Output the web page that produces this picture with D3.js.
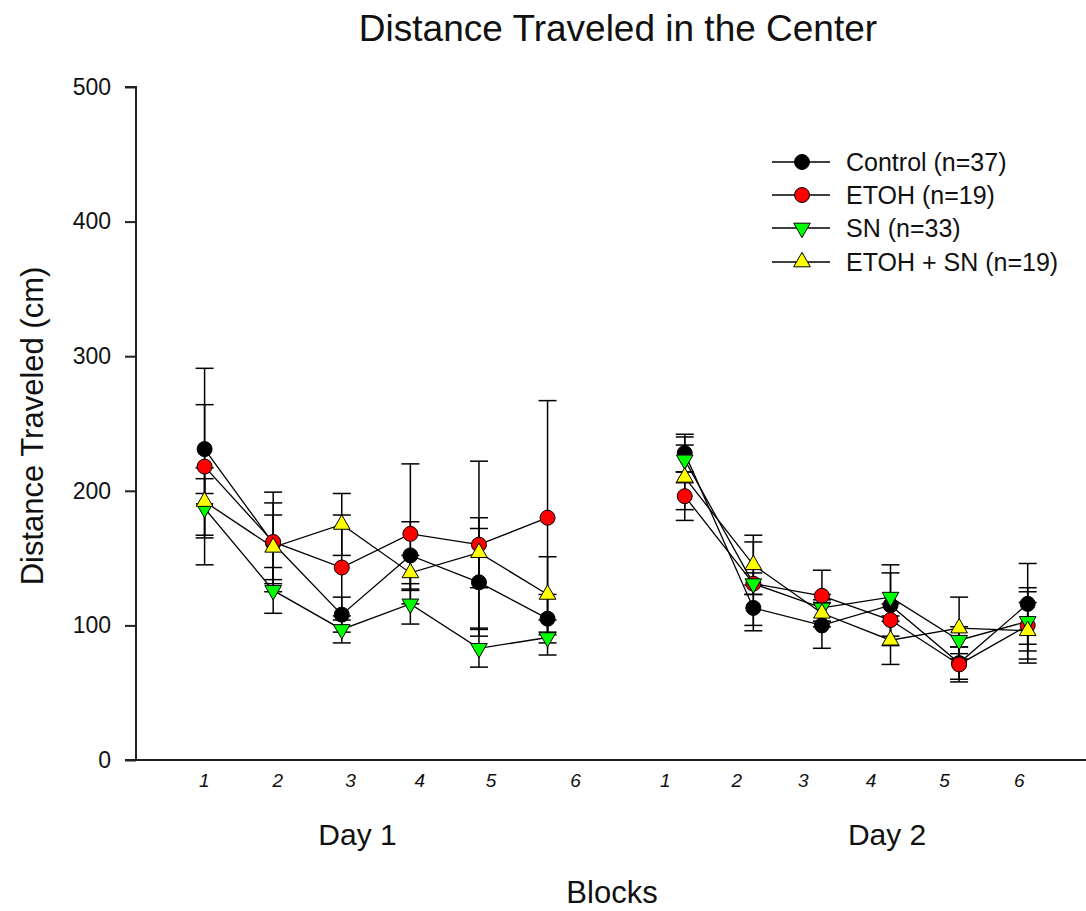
<!DOCTYPE html>
<html>
<head>
<meta charset="utf-8">
<script src="https://cdn.jsdelivr.net/npm/d3@7"></script>
<style>
  html, body { margin: 0; padding: 0; background: #fff; }
  svg { display: block; font-family: Arial, "Liberation Sans", sans-serif; }
</style>
</head>
<body>
<svg id="chart" width="1086" height="911"></svg>
<script>
// ---- data ----
const blocks = [1, 2, 3, 4, 5, 6];
const days = ["Day 1", "Day 2"];
const seriesNames = ["Control (n=37)", "ETOH (n=19)", "SN (n=33)", "ETOH + SN (n=19)"];

const controlDay1 = [231, 161, 108, 152, 132, 105];
const controlDay2 = [228, 113, 100, 115, 72, 116];
const etohDay1 = [218, 162, 143, 168, 160, 180];
const etohDay2 = [196, 131, 122, 104, 71, 100];
const snDay1 = [187, 126, 97, 116, 83, 91];
const snDay2 = [223, 131, 113, 121, 89, 103];
const etohSnDay1 = [192, 158, 175, 139, 154, 123];
const etohSnDay2 = [210, 145, 109, 89, 98, 96];

const controlErr1 = [33, 30, 13, 25, 40, 18];
const controlErr2 = [14, 17, 17, 30, 12, 30];
const etohErr1 = [73, 37, 39, 52, 62, 87];
const etohErr2 = [18, 8, 19, 12, 13, 28];
const snErr1 = [22, 17, 10, 15, 14, 13];
const snErr2 = [17, 31, 10, 18, 10, 22];
const etohSnErr1 = [25, 24, 23, 13, 26, 28];
const etohSnErr2 = [24, 22, 10, 18, 23, 21];

const yTicks = [0, 100, 200, 300, 400, 500];
const xTickLabels = ["1", "2", "3", "4", "5", "6", "1", "2", "3", "4", "5", "6"];
const xTickValues = [0.99, 2.06, 3.12, 4.13, 5.17, 6.40, 7.71, 8.75, 9.72, 10.71, 11.78, 12.87];
const dayOffset = [0, 7];     // Day 2 blocks follow Day 1 after a gap
const dayLabelPos = [3.23, 10.95];

// ---- build series ----
const colors = ["#000000", "#ff0000", "#00ff00", "#ffff00"];
const shapes = ["circle", "circle", "down", "up"];
const values = [[controlDay1, controlDay2], [etohDay1, etohDay2], [snDay1, snDay2], [etohSnDay1, etohSnDay2]];
const errors = [[controlErr1, controlErr2], [etohErr1, etohErr2], [snErr1, snErr2], [etohSnErr1, etohSnErr2]];

const series = seriesNames.map((name, i) => ({
  name, color: colors[i], shape: shapes[i],
  segments: days.map((d, di) => blocks.map((b, bi) => ({
    pos: b + dayOffset[di], v: values[i][di][bi], e: errors[i][di][bi]
  })))
}));

// ---- layout ----
const svg = d3.select("#chart");
const x = d3.scaleLinear().domain([0, 13.85]).range([136, 1086]);
const y = d3.scaleLinear().domain([0, 500]).range([760, 87]);

// title
svg.append("text").attr("x", 618).attr("y", 41).attr("text-anchor", "middle")
  .style("font-size", "37px").attr("fill", "#111").text("Distance Traveled in the Center");

// y axis
const yAxis = d3.axisLeft(y).tickValues(yTicks).tickSize(11).tickPadding(14).tickFormat(d3.format("d"));
const gy = svg.append("g").attr("transform", "translate(136,0)").call(yAxis);
gy.select(".domain").attr("stroke", "#222").attr("stroke-width", 2).attr("d", "M-11,87H0V760H-11");
gy.selectAll(".tick line").attr("stroke", "#222").attr("stroke-width", 2);
gy.selectAll(".tick text").style("font-size", "23px").attr("fill", "#111");

// x axis
const xAxis = d3.axisBottom(x).tickValues(xTickValues).tickSize(0).tickPadding(14)
  .tickFormat((d, i) => xTickLabels[i]);
const gx = svg.append("g").attr("transform", "translate(0,760)").call(xAxis);
gx.select(".domain").attr("stroke", "#222").attr("stroke-width", 2).attr("d", "M136,0H1086");
gx.selectAll(".tick text").style("font-size", "19px").style("font-style", "italic").attr("fill", "#111");

// day labels
svg.selectAll(".daylabel").data(days).enter().append("text")
  .attr("x", (d, i) => x(dayLabelPos[i])).attr("y", 845).attr("text-anchor", "middle")
  .style("font-size", "30px").attr("fill", "#111").text(d => d);

// axis titles
svg.append("text").attr("x", 612).attr("y", 903).attr("text-anchor", "middle")
  .style("font-size", "31px").attr("fill", "#111").text("Blocks");
svg.append("text").attr("transform", "translate(43,426) rotate(-90)").attr("text-anchor", "middle")
  .style("font-size", "31px").attr("fill", "#111").text("Distance Traveled (cm)");

// marker helper
function drawMarker(g, shape, color, cx, cy) {
  if (shape === "circle") {
    g.append("circle").attr("cx", cx).attr("cy", cy).attr("r", 7.5)
      .attr("fill", color).attr("stroke", "#000").attr("stroke-width", 1);
  } else {
    const sym = d3.symbol().type(d3.symbolTriangle).size(120);
    g.append("path").attr("d", sym())
      .attr("transform", `translate(${cx},${cy})` + (shape === "down" ? " rotate(180)" : ""))
      .attr("fill", color).attr("stroke", "#000").attr("stroke-width", 1);
  }
}

const plot = svg.append("g");
const cap = 9;
// error bars
series.forEach(s => {
  s.segments.forEach(seg => {
    seg.forEach(p => {
      const px = x(p.pos);
      plot.append("line").attr("x1", px).attr("x2", px).attr("y1", y(p.v + p.e)).attr("y2", y(p.v - p.e))
        .attr("stroke", "#000").attr("stroke-width", 1.5);
      [p.v + p.e, p.v - p.e].forEach(v => plot.append("line")
        .attr("x1", px - cap).attr("x2", px + cap).attr("y1", y(v)).attr("y2", y(v))
        .attr("stroke", "#000").attr("stroke-width", 1.5));
    });
  });
});
// lines
const line = d3.line().x(p => x(p.pos)).y(p => y(p.v));
series.forEach(s => s.segments.forEach(seg => plot.append("path").attr("d", line(seg))
  .attr("fill", "none").attr("stroke", "#000").attr("stroke-width", 1.3)));
// markers
series.forEach(s => s.segments.forEach(seg => seg.forEach(p => drawMarker(plot, s.shape, s.color, x(p.pos), y(p.v)))));

// legend
const legendRows = [162, 195, 228, 262];
const lg = svg.append("g");
series.forEach((s, i) => {
  const ly = legendRows[i];
  lg.append("line").attr("x1", 772).attr("x2", 830).attr("y1", ly).attr("y2", ly)
    .attr("stroke", "#000").attr("stroke-width", 1.5);
  drawMarker(lg, s.shape, s.color, 802, ly);
  lg.append("text").attr("x", 846).attr("y", ly).attr("dy", "0.36em")
    .style("font-size", "25px").attr("fill", "#111").text(s.name);
});
</script>
</body>
</html>
